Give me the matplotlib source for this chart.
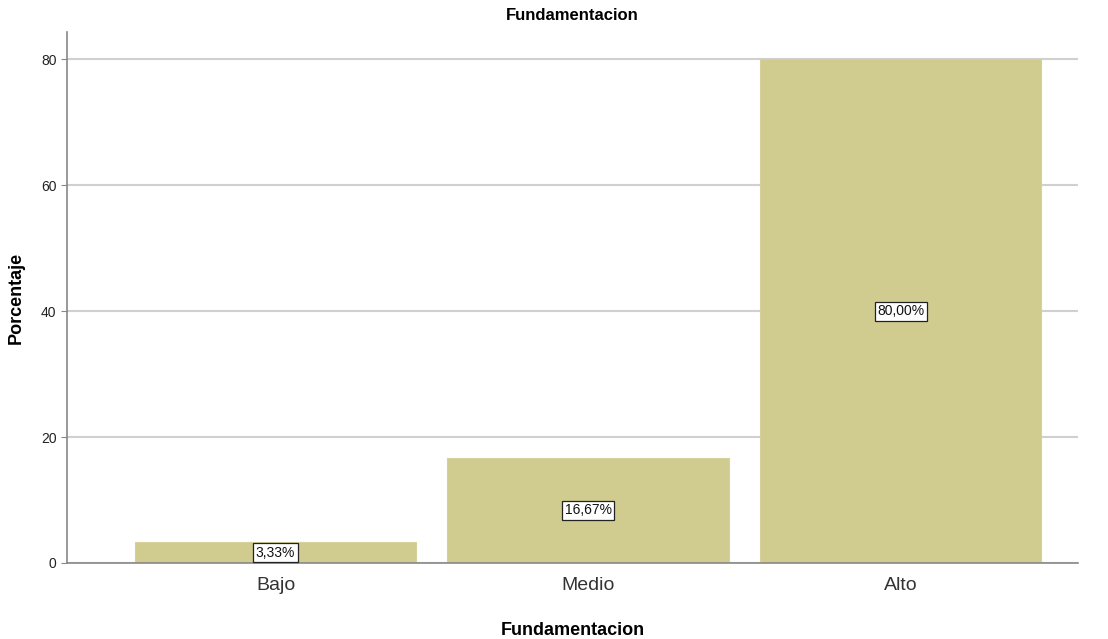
import matplotlib
matplotlib.use("Agg")
import matplotlib.pyplot as plt

plt.rcParams["font.family"] = ["Liberation Sans", "DejaVu Sans"]

categories = ["Bajo", "Medio", "Alto"]
values = [3.33, 16.67, 80.00]
labels = ["3,33%", "16,67%", "80,00%"]
yticks = [0, 20, 40, 60, 80]

fig = plt.figure(figsize=(11.08, 6.39), dpi=100)
ax = fig.add_axes([67/1108, 1 - 563/639, (1078-67)/1108, (563-32)/639])

x = list(range(len(categories)))
ax.bar(x, values, width=0.9, color="#D0CB8E", edgecolor="#D6D19A", linewidth=0.8, zorder=2)
for xi, v, lab in zip(x, values, labels):
    ax.text(xi, v / 2, lab, ha="center", va="center", fontsize=10, color="#111111", zorder=4,
            bbox=dict(boxstyle="square,pad=0.18", facecolor="white", edgecolor="#222222", linewidth=0.9))

ax.set_xlim(-0.667, 2.567)
ax.set_ylim(0, 84.3)
ax.set_yticks(yticks)
ax.set_xticks(x)
ax.set_xticklabels(categories, fontsize=14, color="#333333")
ax.tick_params(axis="y", labelsize=10, length=4, color="#888888", labelcolor="#222222")
ax.tick_params(axis="x", length=0, pad=10)
ax.yaxis.grid(True, color="#D0D0D0", linewidth=1.5, zorder=0)
ax.set_axisbelow(True)
for s in ["top", "right"]:
    ax.spines[s].set_visible(False)
for s in ["left", "bottom"]:
    ax.spines[s].set_color("#888888")
    ax.spines[s].set_linewidth(1.2)

ax.set_title("Fundamentacion", fontsize=12, fontweight="bold", pad=9)
ax.set_xlabel("Fundamentacion", fontsize=13, fontweight="bold", labelpad=20)
ax.set_ylabel("Porcentaje", fontsize=13, fontweight="bold", labelpad=12)

fig.savefig("out.png", dpi=100)
